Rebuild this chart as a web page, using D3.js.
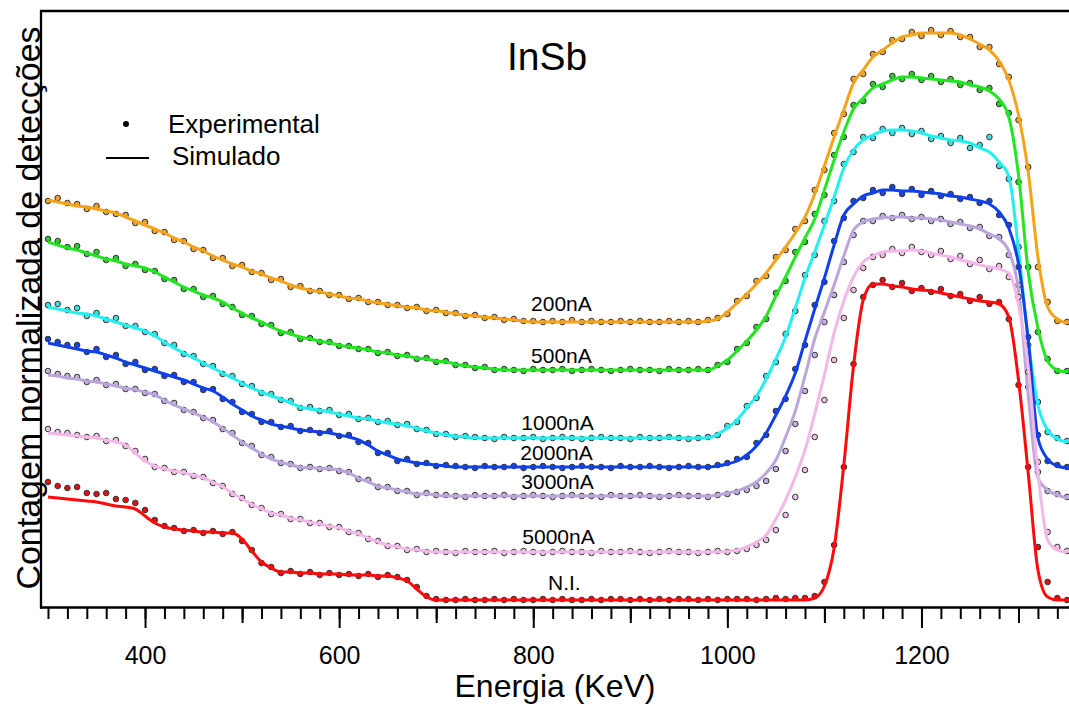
<!DOCTYPE html>
<html>
<head>
<meta charset="utf-8">
<script src="https://cdn.jsdelivr.net/npm/d3@7"></script>
<style>
  body { margin: 0; background: #fff; }
  text { font-family: Arial, "Liberation Sans", sans-serif; fill: #000; }
</style>
</head>
<body>
<svg></svg>
<script>
/* energy channels (keV) */
var energy = [300,310,320,330,340,350,360,370,380,390,400,410,420,430,440,450,460,470,480,490,
  500,510,520,530,540,550,560,570,580,590,600,610,620,630,640,650,660,670,680,690,
  700,710,720,730,740,750,760,770,780,790,800,810,820,830,840,850,860,870,880,890,
  900,910,920,930,940,950,960,970,980,990,1000,1010,1020,1030,1040,1050,1060,1070,1080,1090,
  1100,1110,1120,1130,1140,1150,1160,1170,1180,1190,1200,1210,1220,1230,1240,1250,1260,1270,1280,1290,
  1300,1310,1320,1330,1340,1350];

/* normalized counts (offset per fluence) */
var sim200 = [407,405,403,401,400,398,396,394,390,386,382,378,374,369,365,360,356,351,347,343,
  340,336,333,329,326,322,319,317,315,313,311,309,308,306,304,303,301,300,299,297,
  296,295,293,292,291,290,289,288,287,286,285,285,285,285,285,285,285,285,285,285,
  285,285,285,285,285,285,285,285,286,288,295,304,313,323,334,347,360,374,390,413,
  441,470,497,524,537,550,557,564,570,572,574,574,574,574,572,568,563,557,546,527,
  492,435,350,300,288,284];
var exp200 = [406,409,404,403,398,401,395,393,392,384,385,376,375,367,366,358,357,349,349,341,
  342,335,334,327,328,320,321,316,316,312,312,308,309,305,305,302,302,299,300,296,
  297,294,294,291,292,289,290,287,288,286,286,285,286,285,287,285,286,285,285,286,
  285,286,285,285,286,285,286,285,287,289,293,306,311,326,331,350,357,378,386,417,
  437,474,493,528,533,553,555,567,568,575,571,577,572,576,570,570,560,560,543,530,
  487,440,340,305,286,285];

var sim500 = [365,362,359,357,354,351,348,346,343,341,339,335,330,325,320,316,312,309,305,299,
  294,289,285,280,276,273,270,268,266,264,262,260,259,257,255,254,252,251,249,248,
  246,245,243,241,240,239,238,237,237,237,237,237,237,237,237,237,237,237,237,237,
  237,237,237,237,237,237,237,237,237,241,247,256,266,277,291,311,330,350,369,388,
  417,447,475,498,509,519,523,527,530,530,529,528,527,526,525,522,520,516,508,490,
  432,335,279,246,237,235];
var exp500 = [368,366,360,361,353,355,347,349,341,343,337,336,328,327,318,318,310,311,303,300,
  292,291,283,282,274,275,268,269,265,265,261,261,258,258,254,255,251,252,248,249,
  245,246,242,242,239,240,237,238,237,236,238,237,237,238,236,237,238,237,236,237,
  238,237,237,236,238,237,237,238,237,242,245,258,264,280,288,314,326,355,365,393,
  412,452,470,502,506,523,520,531,528,533,527,531,525,528,522,524,517,519,503,494,
  425,340,275,248,236,236];

var sim1000 = [300,298,296,294,293,291,288,285,282,279,276,271,265,259,254,249,244,239,234,229,
  224,219,215,211,208,204,200,198,197,195,193,191,189,188,186,184,183,181,179,176,
  174,172,171,170,169,169,169,169,169,169,169,169,169,169,169,169,169,169,169,169,
  169,169,169,169,169,169,169,169,169,173,179,187,199,211,228,248,270,299,329,355,
  382,410,439,457,467,472,476,477,477,476,474,471,469,467,466,464,459,455,445,431,
  357,267,202,177,168,165];
var exp1000 = [302,303,297,299,291,294,287,289,281,281,275,273,264,262,253,251,243,241,233,231,
  223,221,214,213,207,206,199,200,196,197,192,193,188,189,185,186,182,183,178,177,
  173,173,170,171,170,169,168,170,169,169,170,168,169,170,169,168,169,170,169,169,
  168,170,169,169,170,169,168,169,170,172,181,185,201,209,231,245,273,296,332,352,
  386,406,443,455,470,469,478,474,479,473,476,468,471,464,469,459,462,470,441,428,
  360,262,205,175,169,166];

var sim2000 = [264,262,260,258,256,255,252,249,245,242,239,236,233,230,227,223,219,216,210,203,
  197,191,187,183,181,179,177,176,175,174,172,170,167,162,156,152,148,146,144,143,
  142,141,140,140,140,140,140,140,140,140,140,140,140,140,140,140,140,140,140,140,
  140,140,140,140,140,140,140,140,140,141,143,146,152,161,174,192,211,234,266,298,
  329,362,392,403,411,414,417,417,416,416,415,414,413,411,410,408,406,403,395,379,
  343,267,169,148,141,139];
var exp2000 = [268,265,262,262,255,258,250,252,243,245,237,238,231,232,225,225,217,218,208,205,
  195,193,185,185,180,181,176,177,174,176,171,172,165,164,154,154,146,148,143,144,
  141,142,141,140,139,141,140,140,141,139,140,141,140,139,140,141,140,140,139,141,
  140,140,141,140,139,140,141,140,140,142,144,148,150,164,172,196,208,238,262,302,
  325,366,389,406,409,417,414,420,413,418,412,416,411,413,408,410,404,406,392,382,
  340,270,172,146,142,140];

var sim3000 = [232,231,229,228,226,225,223,221,219,217,215,212,207,202,198,194,190,185,179,172,
  165,159,153,148,145,142,140,139,139,138,137,134,129,125,121,119,117,115,113,113,
  112,111,111,111,111,111,111,111,111,111,111,111,111,111,111,111,111,111,111,111,
  111,111,111,111,111,111,111,111,111,112,114,116,120,125,134,147,170,196,231,268,
  295,322,351,377,385,388,389,390,390,389,389,388,387,385,383,381,378,373,368,356,
  317,212,129,117,112,109];
var exp3000 = [236,233,231,230,225,227,222,223,218,218,214,213,206,204,197,195,189,187,178,174,
  164,161,152,150,144,143,139,140,138,139,136,135,128,127,120,120,116,116,112,114,
  112,112,111,110,112,111,111,112,110,111,112,111,110,111,112,111,111,110,112,111,
  111,112,111,110,111,112,111,111,110,112,113,115,117,121,126,138,156,183,216,252,
  285,312,345,372,386,386,391,389,392,388,390,386,388,383,385,379,380,371,370,352,
  322,220,135,116,113,110];

var sim5000 = [174,173,172,171,170,169,167,165,162,154,146,141,138,136,134,132,129,125,120,114,
  108,103,98,94,92,89,87,85,83,81,79,76,73,69,65,62,60,58,57,56,
  55,55,55,55,55,55,55,55,55,55,55,55,55,55,55,55,55,55,55,55,
  55,55,55,55,55,55,55,55,55,55,56,57,60,65,72,88,107,130,157,193,
  232,274,306,330,345,351,355,356,356,357,356,354,352,350,347,345,342,340,338,334,
  302,240,135,67,57,55];
var exp5000 = [178,175,174,172,170,171,166,167,161,156,148,140,139,135,135,131,130,124,121,113,
  109,102,99,93,93,88,88,84,84,80,80,75,74,68,66,61,61,57,58,55,
  56,55,54,56,55,55,56,54,55,56,55,54,55,56,55,55,54,56,55,55,
  56,55,54,55,56,55,55,54,55,56,55,56,58,62,67,77,92,110,137,170,
  207,247,289,317,339,350,352,358,354,360,355,352,356,348,351,343,347,338,341,330,
  310,235,145,75,60,56];

var simNI = [110,109,108,107,106,105,103,101,100,98,91,84,80,78,77,76,75,75,74,74,
  68,56,45,39,35,35,34,34,33,33,33,32,32,32,31,31,29,26,18,10,
  7,7,7,7,7,7,7,7,7,7,7,7,7,7,7,7,7,7,7,7,
  7,7,7,7,7,7,7,7,7,7,7,7,7,7,7,7,7,7,7,9,
  21,59,142,241,307,323,323,321,320,318,317,316,314,312,310,308,306,305,303,290,
  227,134,37,10,7,7];
var expNI = [125,121,119,120,114,113,114,108,107,104,97,87,81,79,76,77,74,76,73,75,
  66,57,44,40,34,36,33,35,32,34,32,33,31,33,30,32,30,27,20,11,
  8,7,7,8,7,7,8,7,8,7,7,8,7,8,7,7,8,7,8,8,
  7,8,7,8,7,8,8,7,8,7,8,8,8,7,8,9,8,9,9,11,
  25,62,140,243,310,322,327,320,324,316,319,315,318,311,313,306,310,303,305,288,
  222,140,60,25,9,7];

/* curve labels */
var labels = ['200nA', '500nA', '1000nA', '2000nA', '3000nA', '5000nA', 'N.I.'];
var labelEnergy = [829, 829, 825, 824, 825, 826, 832];
var labelValue = [296, 244, 177, 147, 118, 63, 17];

var majorTicks = [400, 600, 800, 1000, 1200];

/* styles */
var lineColors = ['#f5a31a', '#22e622', '#22f0f0', '#1040e8', '#bba6dc', '#f4b8e8', '#ff0a0a'];
var dotColors = ['#f0a030', '#30c830', '#40dede', '#1a44e0', '#c4b0dc', '#eec0e6', '#e01010'];
var simSeries = [sim200, sim500, sim1000, sim2000, sim3000, sim5000, simNI];
var expSeries = [exp200, exp500, exp1000, exp2000, exp3000, exp5000, expNI];

/* svg setting */
var svgWidth = 1069;
var svgHeight = 706;
var margin = {top: 11, left: 41, bottom: 608};
var scale = {};

var svg = d3.select('svg')
    .attr('width', svgWidth)
    .attr('height', svgHeight);

setScale();
drawCurves();
drawAxis();
drawTexts();

function setScale(){
  scale.x = d3.scaleLinear()
      .domain([292.8, 1355])
      .range([41, 1071.9]);
  scale.y = d3.scaleLinear()
      .domain([0, 600])
      .range([607, 7]);
}

function toPoints(arr){
  var n = Math.min(arr.length, energy.length);
  var pts = [];
  for(var i = 0; i < n; i++){
    pts.push({e: energy[i], v: arr[i]});
  }
  return pts;
}

function drawCurves(){
  var line = d3.line()
      .x(function(d){ return scale.x(d.e); })
      .y(function(d){ return scale.y(d.v); })
      .curve(d3.curveMonotoneX);

  var g = svg.append('g');
  simSeries.forEach(function(sim, k){
    var cg = g.append('g');
    cg.selectAll('circle')
        .data(toPoints(expSeries[k]))
        .enter()
        .append('circle')
        .attr('cx', function(d){ return scale.x(d.e); })
        .attr('cy', function(d){ return scale.y(d.v); })
        .attr('r', 2.8)
        .attr('fill', dotColors[k])
        .attr('stroke', '#333')
        .attr('stroke-width', 1);
    cg.append('path')
        .datum(toPoints(sim))
        .attr('d', line)
        .attr('fill', 'none')
        .attr('stroke', lineColors[k])
        .attr('stroke-width', 3);
  });
}

function drawAxis(){
  var axisG = svg.append('g').attr('transform', translate(0, margin.bottom));

  var minor = axisG.append('g')
      .call(d3.axisBottom(scale.x).tickValues(d3.range(300, 1341, 20)).tickSize(11).tickFormat(''));
  var medium = axisG.append('g')
      .call(d3.axisBottom(scale.x).tickValues([500, 700, 900, 1100, 1300]).tickSize(15).tickFormat(''));
  var major = axisG.append('g')
      .call(d3.axisBottom(scale.x).tickValues(majorTicks).tickSize(20).tickPadding(18).tickFormat(d3.format('d')));

  axisG.selectAll('.domain').remove();
  axisG.selectAll('.tick line').attr('stroke', '#000').attr('stroke-width', 2);
  major.selectAll('.tick text')
      .style('font-size', '25px')
      .style('font-family', 'Arial, "Liberation Sans", sans-serif')
      .attr('fill', '#000');

  // frame lines
  svg.append('line')
      .attr('x1', 40).attr('x2', svgWidth)
      .attr('y1', margin.bottom - 0.5).attr('y2', margin.bottom - 0.5)
      .attr('stroke', '#000').attr('stroke-width', 2.3);
  svg.append('line')
      .attr('x1', margin.left).attr('x2', margin.left)
      .attr('y1', margin.top - 1).attr('y2', margin.bottom + 0.5)
      .attr('stroke', '#000').attr('stroke-width', 2.3);
  svg.append('line')
      .attr('x1', 40).attr('x2', svgWidth)
      .attr('y1', margin.top).attr('y2', margin.top)
      .attr('stroke', '#000').attr('stroke-width', 2.3);
}

function drawTexts(){
  svg.append('g').selectAll('text')
      .data(labels)
      .enter()
      .append('text')
      .attr('x', function(d, i){ return scale.x(labelEnergy[i]); })
      .attr('y', function(d, i){ return scale.y(labelValue[i]); })
      .attr('text-anchor', 'middle')
      .style('font-size', '21px')
      .text(function(d){ return d; });

  svg.append('text')
      .attr('x', 547).attr('y', 70)
      .attr('text-anchor', 'middle')
      .style('font-size', '39px')
      .text('InSb');

  // legend
  svg.append('circle').attr('cx', 126).attr('cy', 124).attr('r', 3).attr('fill', '#000');
  svg.append('text').attr('x', 168).attr('y', 133).style('font-size', '26px').text('Experimental');
  svg.append('line')
      .attr('x1', 106).attr('x2', 149).attr('y1', 158).attr('y2', 158)
      .attr('stroke', '#000').attr('stroke-width', 2);
  svg.append('text').attr('x', 172).attr('y', 165).style('font-size', '26px').text('Simulado');

  // axis titles
  svg.append('text')
      .attr('x', 555).attr('y', 697)
      .attr('text-anchor', 'middle')
      .style('font-size', '32px')
      .text('Energia (KeV)');
  svg.append('text')
      .attr('transform', translate(40, 308) + ' rotate(-90)')
      .attr('text-anchor', 'middle')
      .style('font-size', '34px')
      .text('Contagem normalizada de detecções');
}

function translate(x, y) {
  return 'translate(' + x + ',' + y + ')';
}
</script>
</body>
</html>
